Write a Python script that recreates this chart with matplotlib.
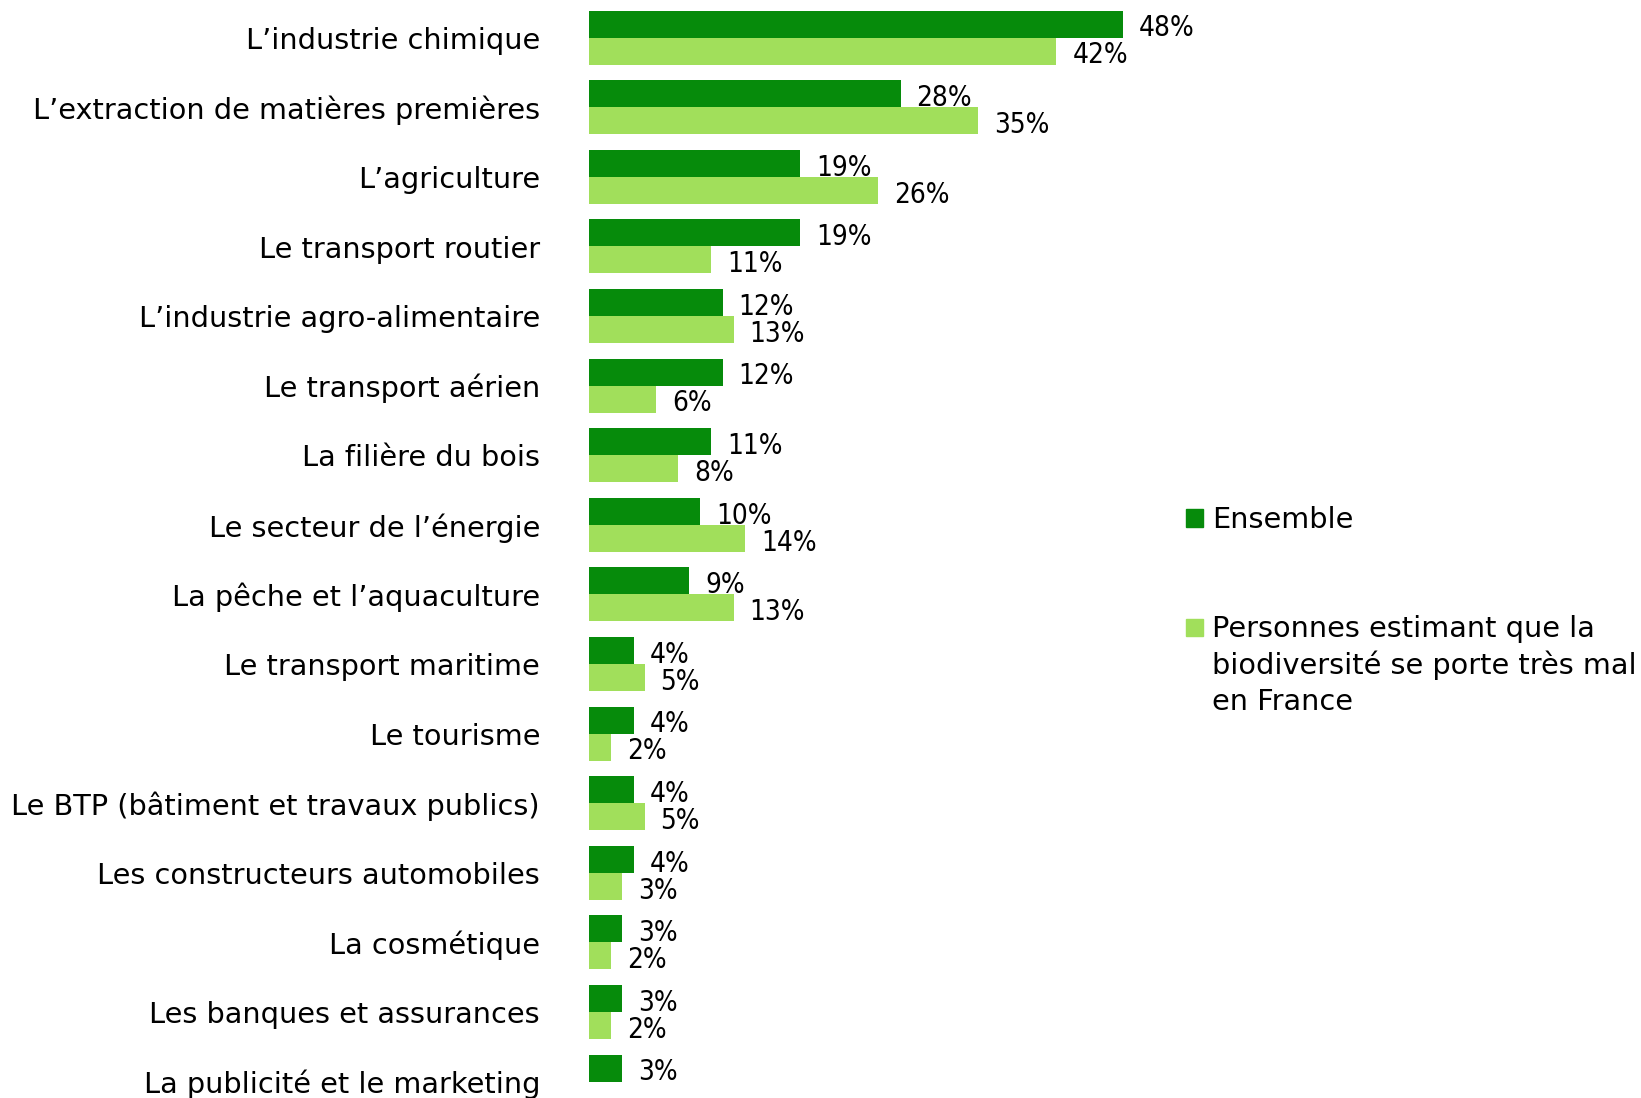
import matplotlib
matplotlib.use("Agg")
import matplotlib.pyplot as plt
from matplotlib.patches import Rectangle
from matplotlib import font_manager
import numpy as np

categories = [
    "L\u2019industrie chimique",
    "L\u2019extraction de mati\u00e8res premi\u00e8res",
    "L\u2019agriculture",
    "Le transport routier",
    "L\u2019industrie agro-alimentaire",
    "Le transport a\u00e9rien",
    "La fili\u00e8re du bois",
    "Le secteur de l\u2019\u00e9nergie",
    "La p\u00eache et l\u2019aquaculture",
    "Le transport maritime",
    "Le tourisme",
    "Le BTP (b\u00e2timent et travaux publics)",
    "Les constructeurs automobiles",
    "La cosm\u00e9tique",
    "Les banques et assurances",
    "La publicit\u00e9 et le marketing",
]
ensemble = [48, 28, 19, 19, 12, 12, 11, 10, 9, 4, 4, 4, 4, 3, 3, 3]
tres_mal = [42, 35, 26, 11, 13, 6, 8, 14, 13, 5, 2, 5, 3, 2, 2, None]
series_names = ["Ensemble",
                "Personnes estimant que la\nbiodiversit\u00e9 se porte tr\u00e8s mal\nen France"]

DARK = "#068B0B"
LIGHT = "#A1DF5B"

names = {f.name for f in font_manager.fontManager.ttflist}
if "Liberation Sans Narrow" in names:
    numfam = ["Liberation Sans Narrow", "DejaVu Sans"]
    numstretch = "normal"
else:
    numfam = ["DejaVu Sans"]
    numstretch = "condensed"

W, H = 1641, 1098
fig = plt.figure(figsize=(W / 100, H / 100), dpi=100)
x0 = 589
ax = fig.add_axes([x0 / W, 0, 1 - x0 / W, 1])
px_per_unit = 11.125
ax.set_xlim(0, (W - x0) / px_per_unit)
spacing = 69.6
c0 = 37.7
ax.set_ylim((H - c0) / spacing, -c0 / spacing)
ax.axis("off")

bh = 27 / spacing
y = np.arange(len(categories))
ax.barh(y - bh / 2, ensemble, height=bh, color=DARK)
lmask = [v is not None for v in tres_mal]
ax.barh(y[lmask] + bh / 2, [v for v in tres_mal if v is not None], height=bh, color=LIGHT)

numfont = dict(family=numfam, fontstretch=numstretch, fontsize=20, color="black")
off = 16 / px_per_unit
for i, v in enumerate(ensemble):
    ax.text(v + off, i - bh / 2 + 0.06, f"{v}%", va="center", ha="left", **numfont)
for i, v in enumerate(tres_mal):
    if v is not None:
        ax.text(v + off, i + bh / 2 + 0.06, f"{v}%", va="center", ha="left", **numfont)

labfont = dict(family=["DejaVu Sans"], fontsize=20.7, color="black")
for i, c in enumerate(categories):
    ypx = c0 + spacing * i + 3
    fig.text(540 / W, 1 - ypx / H, c, ha="right", va="center", **labfont)

# legend
sq = 17
leg_items = [(518, DARK, series_names[0]), (627, LIGHT, series_names[1])]
for yc, col, name in leg_items:
    fig.patches.append(Rectangle((1186 / W, 1 - (yc + sq / 2) / H), sq / W, sq / H,
                                 transform=fig.transFigure, color=col))
    for k, line in enumerate(name.split("\n")):
        fig.text(1212 / W, 1 - (yc - 1 + 36.6 * k) / H, line, ha="left",
                 va="center_baseline", **labfont)

fig.savefig("out.png", dpi=100)
